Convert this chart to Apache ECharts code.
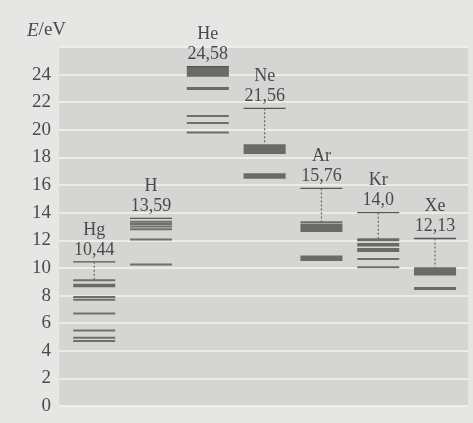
<!DOCTYPE html>
<html>
<head>
<meta charset="utf-8">
<script src="https://cdn.jsdelivr.net/npm/echarts@6/dist/echarts.min.js"></script>
<style>
html,body{margin:0;padding:0;background:#e6e6e4;}
#c{width:473px;height:423px;}
</style>
</head>
<body>
<div id="c"></div>
<script>
// ---- data ----
const elements = ['Hg', 'H', 'He', 'Ne', 'Ar', 'Kr', 'Xe'];
const ionization = [10.44, 13.59, 24.58, 21.56, 15.76, 14.0, 12.13];
const ionLabels = ['10,44', '13,59', '24,58', '21,56', '15,76', '14,0', '12,13'];
const yTicks = [0, 2, 4, 6, 8, 10, 12, 14, 16, 18, 20, 22, 24];
// excited levels as [low, high] in eV (low == high -> single level)
const hgLevels = [[4.70, 4.70], [4.95, 4.95], [5.47, 5.47], [6.70, 6.70], [7.70, 7.70], [7.90, 7.90], [8.60, 8.85], [9.10, 9.10]];
const hLevels = [[10.25, 10.25], [12.05, 12.05], [12.80, 12.80], [13.00, 13.00], [13.18, 13.18], [13.34, 13.34]];
const heLevels = [[19.80, 19.80], [20.50, 20.50], [21.00, 21.00], [22.92, 23.08], [23.85, 24.58]];
const neLevels = [[16.45, 16.85], [18.25, 18.95]];
const arLevels = [[10.50, 10.90], [12.60, 13.20], [13.30, 13.30]];
const krLevels = [[10.05, 10.05], [10.65, 10.65], [11.15, 11.45], [11.55, 11.80], [11.93, 12.15]];
const xeLevels = [[8.40, 8.62], [9.45, 10.05]];
const allLevels = [hgLevels, hLevels, heLevels, neLevels, arLevels, krLevels, xeLevels];

// ---- build series data ----
const levelData = [];
allLevels.forEach((lv, i) => lv.forEach(l => levelData.push([i, l[0], l[1]])));
const ionData = elements.map((e, i) => {
  const top = Math.max.apply(null, allLevels[i].map(l => l[1]));
  return [i, ionization[i], top];
});

const serif = '"Liberation Serif", "DejaVu Serif", serif';
const textColor = '#4a4a4a';
const W = 0.74;

const chart = echarts.init(document.getElementById('c'));
chart.setOption({
  animation: false,
  backgroundColor: '#e6e6e4',
  grid: { left: 59, right: 5, top: 47, bottom: 17, show: true, backgroundColor: '#d5d5d3', borderWidth: 0 },
  xAxis: { type: 'value', min: -0.62, max: 6.58, show: false },
  yAxis: {
    type: 'value', min: 0, max: 26, interval: 2,
    axisLine: { show: false }, axisTick: { show: false },
    axisLabel: {
      margin: 8, fontFamily: serif, fontSize: 19, color: textColor,
      formatter: v => (yTicks.indexOf(v) >= 0 ? String(v) : '')
    },
    splitLine: { lineStyle: { color: '#f3f3f1', width: 1.5 } }
  },
  graphic: [{
    type: 'text', left: 27, top: 21,
    style: {
      text: '{i|E}/eV', fontFamily: serif, fontSize: 19, fill: textColor,
      rich: { i: { fontStyle: 'italic', fontFamily: serif, fontSize: 19, fill: textColor } }
    }
  }],
  series: [
    {
      type: 'custom',
      data: levelData,
      renderItem: (params, api) => {
        const i = api.value(0);
        const pLo = api.coord([i, api.value(1)]);
        const pHi = api.coord([i, api.value(2)]);
        const w = api.size([W, 0])[0];
        const thick = api.value(2) > api.value(1);
        let h = pLo[1] - pHi[1];
        h = thick ? Math.max(h, 3) : 2;
        const cy = (pLo[1] + pHi[1]) / 2;
        return {
          type: 'rect',
          shape: { x: pHi[0] - w / 2, y: cy - h / 2, width: w, height: h },
          style: { fill: thick ? '#6a6a68' : '#6e6e6c' }
        };
      }
    },
    {
      type: 'custom',
      data: ionData,
      renderItem: (params, api) => {
        const i = api.value(0);
        const p = api.coord([i, api.value(1)]);
        const pt = api.coord([i, api.value(2)]);
        const w = api.size([W, 0])[0];
        const children = [
          { type: 'line', shape: { x1: p[0] - w / 2, y1: p[1], x2: p[0] + w / 2, y2: p[1] },
            style: { stroke: '#555553', lineWidth: 1.3 } },
          { type: 'text', x: p[0], y: p[1] - 12,
            style: { text: ionLabels[i], fontFamily: serif, fontSize: 18, fill: textColor, align: 'center', verticalAlign: 'middle' } },
          { type: 'text', x: p[0], y: p[1] - 32,
            style: { text: elements[i], fontFamily: serif, fontSize: 18, fill: textColor, align: 'center', verticalAlign: 'middle' } }
        ];
        if (api.value(1) - api.value(2) > 0.5) {
          children.push({ type: 'line', shape: { x1: p[0], y1: p[1], x2: p[0], y2: pt[1] },
            style: { stroke: '#666664', lineWidth: 1.2, lineDash: [2, 2] } });
        }
        return { type: 'group', children };
      }
    }
  ]
});
</script>
</body>
</html>
